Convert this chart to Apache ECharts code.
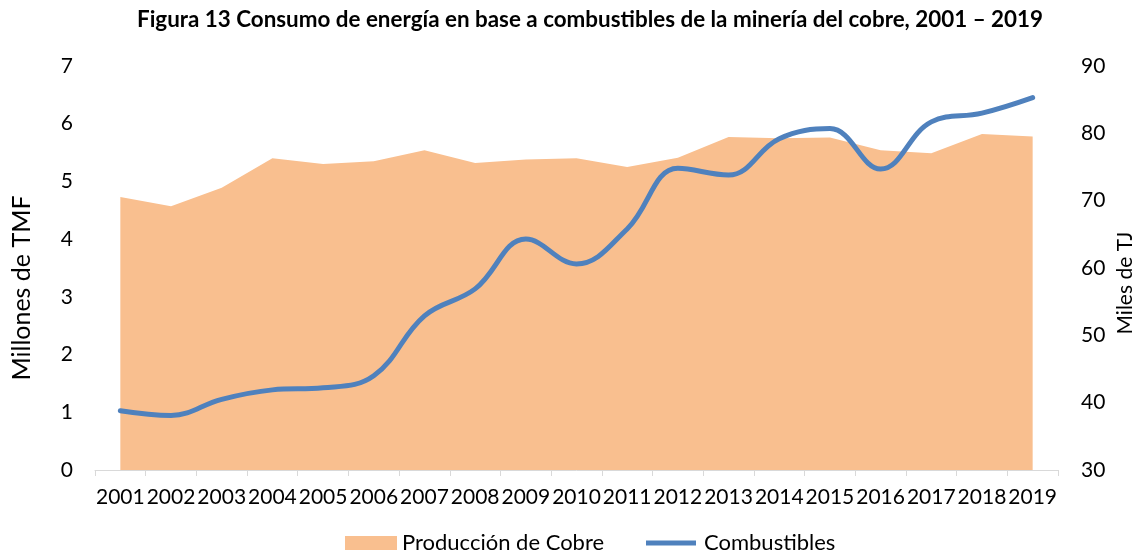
<!DOCTYPE html>
<html>
<head>
<meta charset="utf-8">
<script src="https://cdn.jsdelivr.net/npm/echarts@6/dist/echarts.min.js"></script>
<style>
  html, body { margin: 0; padding: 0; background: #fff; }
  #main { width: 1140px; height: 554px; }
</style>
</head>
<body>
<div id="main"></div>
<script>
// años
const years = ['2001', '2002', '2003', '2004', '2005', '2006', '2007', '2008', '2009', '2010',
  '2011', '2012', '2013', '2014', '2015', '2016', '2017', '2018', '2019'];
// Producción de cobre, millones de TMF (eje izquierdo)
const cobre = [4.73, 4.57, 4.89, 5.40, 5.30, 5.35, 5.54, 5.32, 5.38, 5.40,
  5.25, 5.41, 5.77, 5.75, 5.76, 5.54, 5.49, 5.82, 5.78];
// Combustibles, miles de TJ (eje derecho)
const combustibles = [38.8, 38.1, 40.5, 41.9, 42.2, 44.0, 52.9, 56.9, 64.3, 60.6,
  65.8, 74.8, 73.8, 79.2, 80.7, 74.7, 81.7, 83.0, 85.3];

const font = 'Lato, "Open Sans", sans-serif';
const chart = echarts.init(document.getElementById('main'));

chart.setOption({
  animation: false,
  textStyle: { fontFamily: font },
  title: {
    text: 'Figura 13 Consumo de energía en base a combustibles de la minería del cobre, 2001 – 2019',
    left: 132,
    top: 4,
    textStyle: { fontSize: 22.4, fontWeight: 'bold', color: '#000', fontFamily: font }
  },
  grid: { left: 95, right: 82, top: 66, bottom: 84 },
  legend: [{
    data: [{ name: 'Producción de Cobre', icon: 'rect' }],
    left: 345, top: 532, padding: 0,
    itemWidth: 52, itemHeight: 14, itemGap: 6,
    textStyle: { fontSize: 22, color: '#000', fontFamily: font }
  }, {
    data: [{ name: 'Combustibles', icon: 'path://M0,0 L100,0 L100,10 L0,10 Z' }],
    left: 646, top: 532, padding: 0,
    itemWidth: 56, itemHeight: 5, itemGap: 4,
    textStyle: { fontSize: 22, color: '#000', fontFamily: font }
  }],
  graphic: [{
    type: 'text',
    x: 22, y: 288, rotation: Math.PI / 2,
    style: {
      text: 'Millones de TMF', fill: '#000',
      font: '25px Lato, "Open Sans", sans-serif',
      align: 'center', verticalAlign: 'middle'
    }
  }, {
    type: 'text',
    x: 1125, y: 283, rotation: Math.PI / 2,
    style: {
      text: 'Miles de TJ', fill: '#000',
      font: '21px Lato, "Open Sans", sans-serif',
      align: 'center', verticalAlign: 'middle'
    }
  }],
  xAxis: {
    type: 'category',
    data: years,
    boundaryGap: true,
    axisLine: { lineStyle: { color: '#D9D9D9', width: 1 } },
    axisTick: { show: true, length: 6, lineStyle: { color: '#D9D9D9' } },
    axisLabel: { color: '#000', fontSize: 21, margin: 17, interval: 0 }
  },
  yAxis: [{
    type: 'value',
    min: 0, max: 7, interval: 1,
    axisLine: { show: false },
    axisTick: { show: false },
    splitLine: { show: false },
    axisLabel: { color: '#000', fontSize: 21, margin: 22 }
  }, {
    type: 'value',
    min: 30, max: 90, interval: 10,
    axisLine: { show: false },
    axisTick: { show: false },
    splitLine: { show: false },
    axisLabel: { color: '#000', fontSize: 21, margin: 23 }
  }],
  series: [{
    name: 'Producción de Cobre',
    type: 'line',
    yAxisIndex: 0,
    data: cobre,
    symbol: 'none',
    lineStyle: { width: 0 },
    itemStyle: { color: '#F9BF8F' },
    areaStyle: { color: '#F9BF8F', opacity: 1 },
    z: 1
  }, {
    name: 'Combustibles',
    type: 'line',
    yAxisIndex: 1,
    data: combustibles,
    smooth: 0.4,
    symbol: 'none',
    itemStyle: { color: '#4F81BD' },
    lineStyle: { color: '#4F81BD', width: 5, cap: 'round' },
    z: 2
  }]
});
</script>
</body>
</html>
